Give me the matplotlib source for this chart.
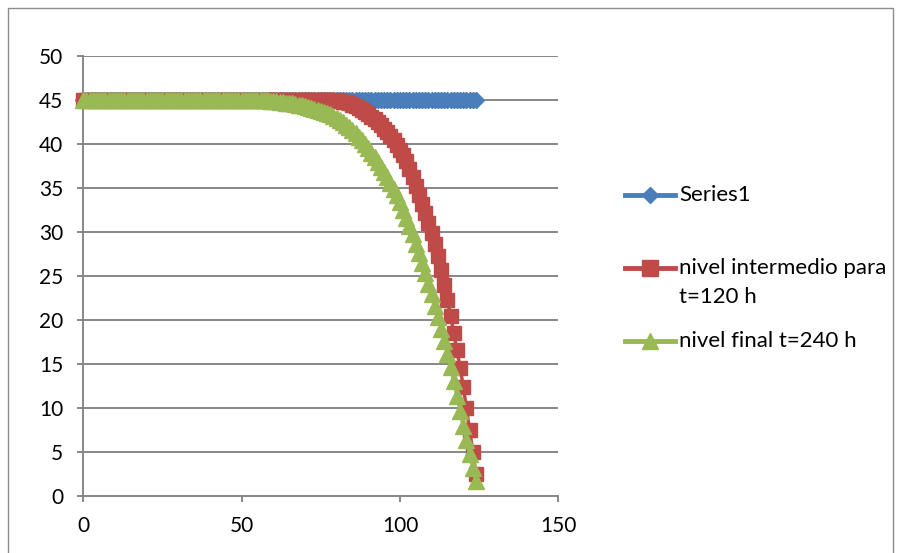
import matplotlib
matplotlib.use("Agg")
import matplotlib.pyplot as plt
from matplotlib.lines import Line2D
from matplotlib.patches import Rectangle

# ---------------- data ----------------
x_vals = list(range(0, 125))

series1 = [45.0] * 125

red_tail = [45.0, 44.98, 44.95, 44.9, 44.82, 44.72, 44.6, 44.45, 44.3, 44.1,
            43.9, 43.65, 43.4, 43.1, 42.8, 42.45, 42.1, 41.7, 41.3, 40.85,
            40.4, 39.85, 39.3, 38.7, 38.0, 37.2, 36.2, 35.2, 34.2, 33.2,
            32.1, 31.0, 29.9, 28.6, 27.2, 25.6, 24.0, 22.2, 20.4, 18.5,
            16.5, 14.5, 12.4, 9.9, 7.4, 5.0, 2.4]          # x = 78..124
nivel_intermedio = [45.0] * 78 + red_tail

green_tail = [45.0, 44.98, 44.96, 44.95, 44.92, 44.9, 44.85, 44.8, 44.75, 44.7,
              44.65, 44.6, 44.52, 44.45, 44.38, 44.3, 44.2, 44.1, 44.0, 43.9,
              43.78, 43.65, 43.5, 43.35, 43.18, 43.0, 42.75, 42.5, 42.2, 41.9,
              41.55, 41.2, 40.8, 40.4, 39.95, 39.5, 39.0, 38.5, 37.95, 37.4,
              36.8, 36.2, 35.55, 34.9, 34.15, 33.4, 32.5, 31.6, 30.65, 29.7,
              28.65, 27.6, 26.45, 25.3, 24.1, 22.9, 21.6, 20.3, 18.95, 17.6,
              16.1, 14.6, 13.0, 11.3, 9.6, 7.9, 6.3, 4.7, 3.1, 1.6]  # x = 55..124
nivel_final = [45.0] * 55 + green_tail

labels = ["Series1", "nivel intermedio para\nt=120 h", "nivel final t=240 h"]
x_ticks = [0, 50, 100, 150]
y_ticks = [0, 5, 10, 15, 20, 25, 30, 35, 40, 45, 50]

# ---------------- style ----------------
BLUE = "#4A7EBB"
RED = "#BE4B48"
GREEN = "#98B954"
GRID = "#878787"
FONT = "Lato"

W, H = 903, 553
fig = plt.figure(figsize=(W / 100, H / 100), dpi=100)
fig.patch.set_facecolor("white")

# chart border
fig.patches.append(Rectangle((8 / W, -0.05), (893 - 8) / W, (H - 8) / H + 0.05,
                             transform=fig.transFigure, fill=False,
                             edgecolor="#8c8c8c", linewidth=1.0))

left, right = 83.3 / W, 558.3 / W
bottom, top = (H - 495.5) / H, (H - 56) / H
ax = fig.add_axes([left, bottom, right - left, top - bottom])
ax.set_xlim(0, 150)
ax.set_ylim(0, 50)

for yv in y_ticks[1:]:
    ax.axhline(yv, color=GRID, linewidth=1.4, zorder=1)

ax.plot(x_vals, series1, color=BLUE, linewidth=2.5, marker="D", markersize=8,
        markerfacecolor=BLUE, markeredgecolor=BLUE, zorder=3, clip_on=False)
ax.plot(x_vals, nivel_intermedio, color=RED, linewidth=2.5, marker="s", markersize=10.5,
        markerfacecolor=RED, markeredgecolor=RED, zorder=4, clip_on=False)
ax.plot(x_vals, nivel_final, color=GREEN, linewidth=2.5, marker="^", markersize=12,
        markerfacecolor=GREEN, markeredgecolor=GREEN, zorder=5, clip_on=False)

for s in ["top", "right"]:
    ax.spines[s].set_visible(False)
for s in ["left", "bottom"]:
    ax.spines[s].set_color(GRID)
    ax.spines[s].set_linewidth(1.4)
    ax.spines[s].set_zorder(2)

ax.set_xticks(x_ticks)
ax.set_yticks(y_ticks)
ax.set_xticklabels([str(v) for v in x_ticks])
ax.set_yticklabels([str(v) for v in y_ticks])
ax.tick_params(axis="both", direction="out", length=4.5, width=1.4, color=GRID,
               labelsize=15, labelcolor="#000000")
ax.tick_params(axis="y", pad=10)
ax.tick_params(axis="x", pad=10)
for lab in ax.get_xticklabels() + ax.get_yticklabels():
    lab.set_fontfamily(FONT)

# ---------------- legend (Excel style) ----------------
leg_x0, leg_x1 = 625 / W, 675 / W
text_x = 679 / W
entries = [
    (195, BLUE, "D", 8, labels[0]),
    (268, RED, "s", 11, labels[1]),
    (341, GREEN, "^", 12, labels[2]),
]
for ypx, col, mk, ms, lab in entries:
    yf = (H - ypx) / H
    fig.add_artist(Line2D([leg_x0, leg_x1], [yf, yf], transform=fig.transFigure,
                          color=col, linewidth=3.5))
    fig.add_artist(Line2D([(leg_x0 + leg_x1) / 2], [yf], transform=fig.transFigure,
                          color=col, marker=mk, markersize=ms, linewidth=0))
    for i, line in enumerate(lab.split("\n")):
        fig.text(text_x, (H - ypx - 29 * i) / H, line, ha="left", va="center",
                 fontsize=16, fontfamily=FONT, color="#000000")

fig.savefig("out.png", dpi=100)
